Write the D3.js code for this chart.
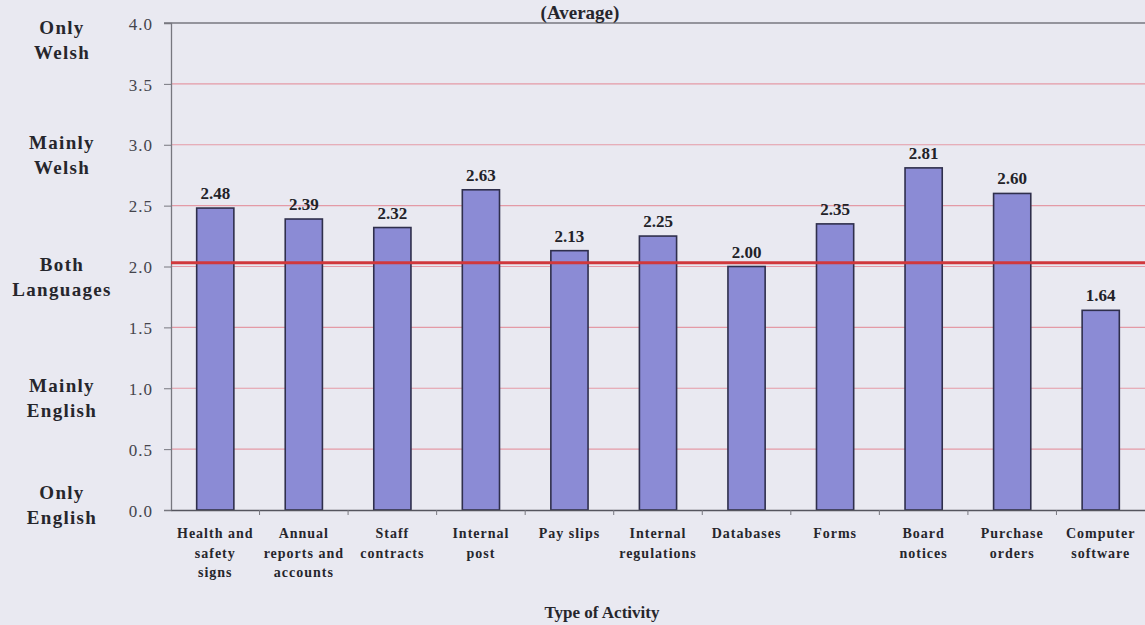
<!DOCTYPE html>
<html>
<head>
<meta charset="utf-8">
<script src="https://cdn.jsdelivr.net/npm/d3@7"></script>
<style>
  html, body { margin: 0; padding: 0; background: #e9e9f1; }
  svg { display: block; }
  svg text { font-family: "Liberation Serif", "Times New Roman", serif !important; }
</style>
</head>
<body>
<svg id="chart" width="1145" height="625"></svg>
<script>
// Activities and their average language-use score (0 = only English, 4 = only Welsh)
const activities = [
  "Health and\nsafety\nsigns",
  "Annual\nreports and\naccounts",
  "Staff\ncontracts",
  "Internal\npost",
  "Pay slips",
  "Internal\nregulations",
  "Databases",
  "Forms",
  "Board\nnotices",
  "Purchase\norders",
  "Computer\nsoftware"
];
const averages = [2.48, 2.39, 2.32, 2.63, 2.13, 2.25, 2.00, 2.35, 2.81, 2.60, 1.64];

// Value-axis ticks and the verbal scale beside them
const yTicks = [0, 0.5, 1, 1.5, 2, 2.5, 3, 3.5, 4];
const scaleNames = ["Only\nWelsh", "Mainly\nWelsh", "Both\nLanguages", "Mainly\nEnglish", "Only\nEnglish"];
const scaleLevels = [4, 3, 2, 1, 0];

// Marker line for the "both languages" level
const referenceLevel = 2.03;

const titleText = "(Average)";
const xTitle = "Type of Activity";

const svg = d3.select("#chart");
const margin = { top: 23, right: 0, bottom: 115, left: 171 };
const W = 1145, H = 625;

const x = d3.scaleBand()
  .domain(activities)
  .range([margin.left, W - margin.right])
  .paddingInner(0.58)
  .paddingOuter(0.29);

const y = d3.scaleLinear()
  .domain([0, 4])
  .range([H - margin.bottom, margin.top]);

// Horizontal gridlines
svg.append("g")
  .selectAll("line")
  .data(yTicks.filter(t => t > 0 && t < 4))
  .join("line")
  .attr("x1", margin.left)
  .attr("x2", W)
  .attr("y1", d => y(d))
  .attr("y2", d => y(d))
  .attr("stroke", "#e49aa6")
  .attr("stroke-width", 1.2);

// Top border of the plot
svg.append("line")
  .attr("x1", margin.left - 7)
  .attr("x2", W)
  .attr("y1", y(4))
  .attr("y2", y(4))
  .attr("stroke", "#77777f")
  .attr("stroke-width", 1.3);

// Left value axis
const yAxis = d3.axisLeft(y)
  .tickValues(yTicks)
  .tickFormat(d3.format(".1f"))
  .tickSize(7)
  .tickPadding(11);

const gy = svg.append("g")
  .attr("transform", `translate(${margin.left},0)`)
  .call(yAxis)
  .attr("font-family", null);
gy.select(".domain").attr("stroke", "#77777f").attr("stroke-width", 1.3);
gy.selectAll(".tick line").attr("stroke", "#77777f");
gy.selectAll(".tick text")
  .attr("fill", "#44444c")
  .style("font-size", "17px")
  .style("letter-spacing", "1px")
  .attr("dy", "0.36em");

// Bars
svg.append("g")
  .selectAll("rect")
  .data(averages)
  .join("rect")
  .attr("x", (d, i) => x(activities[i]))
  .attr("width", x.bandwidth())
  .attr("y", d => y(d))
  .attr("height", d => y(0) - y(d))
  .attr("fill", "#8b8bd5")
  .attr("stroke", "#2f2f4c")
  .attr("stroke-width", 1.6);

// Value labels above bars
svg.append("g")
  .selectAll("text")
  .data(averages)
  .join("text")
  .attr("x", (d, i) => x(activities[i]) + x.bandwidth() / 2)
  .attr("y", d => y(d) - 9)
  .attr("text-anchor", "middle")
  .attr("fill", "#222228")
  .style("font-size", "17px")
  .style("font-weight", "bold")
  .text(d => d.toFixed(2));

// Reference line
svg.append("line")
  .attr("x1", margin.left)
  .attr("x2", W)
  .attr("y1", y(referenceLevel))
  .attr("y2", y(referenceLevel))
  .attr("stroke", "#d0383c")
  .attr("stroke-width", 3);

// Bottom category axis
const xAxis = d3.axisBottom(x).tickSize(0).tickFormat("");
const gx = svg.append("g")
  .attr("transform", `translate(0,${y(0)})`)
  .call(xAxis);
gx.select(".domain").attr("stroke", "#55555e").attr("stroke-width", 1.6);

// Small ticks between categories
const boundaries = activities.map(a => x(a) - x.step() * x.paddingInner() / 2).slice(1);
gx.append("g")
  .selectAll("line")
  .data(boundaries)
  .join("line")
  .attr("x1", d => d)
  .attr("x2", d => d)
  .attr("y1", 0)
  .attr("y2", 5)
  .attr("stroke", "#77777f");

// Multi-line category labels
const xLabels = svg.append("g")
  .selectAll("text")
  .data(activities)
  .join("text")
  .attr("x", d => x(d) + x.bandwidth() / 2)
  .attr("y", y(0) + 28)
  .attr("text-anchor", "middle")
  .attr("fill", "#26262c")
  .style("font-size", "14px")
  .style("font-weight", "bold")
  .style("letter-spacing", "1px");
xLabels.each(function(d) {
  const t = d3.select(this);
  d.split("\n").forEach((line, k) => {
    t.append("tspan")
      .attr("x", x(d) + x.bandwidth() / 2)
      .attr("dy", k === 0 ? 0 : 19.5)
      .text(line);
  });
});

// Verbal scale labels on the left
const scaleG = svg.append("g")
  .selectAll("text")
  .data(scaleNames)
  .join("text")
  .attr("text-anchor", "middle")
  .attr("fill", "#26262c")
  .style("font-size", "19px")
  .style("font-weight", "bold")
  .style("letter-spacing", "1.3px");
scaleG.each(function(d, i) {
  const t = d3.select(this);
  const cy = Math.max(40, Math.min(505, y(scaleLevels[i]) + 10));
  const lines = d.split("\n");
  t.attr("y", cy - 6);
  lines.forEach((line, k) => {
    t.append("tspan")
      .attr("x", 62)
      .attr("dy", k === 0 ? 0 : 25)
      .text(line);
  });
});

// Title
svg.append("text")
  .attr("x", 580)
  .attr("y", 19)
  .attr("text-anchor", "middle")
  .attr("fill", "#26262c")
  .style("font-size", "19px")
  .style("font-weight", "bold")
  .text(titleText);

// Axis title
svg.append("text")
  .attr("x", 602)
  .attr("y", 618)
  .attr("text-anchor", "middle")
  .attr("fill", "#26262c")
  .style("font-size", "17px")
  .style("font-weight", "bold")
  .text(xTitle);
</script>
</body>
</html>
